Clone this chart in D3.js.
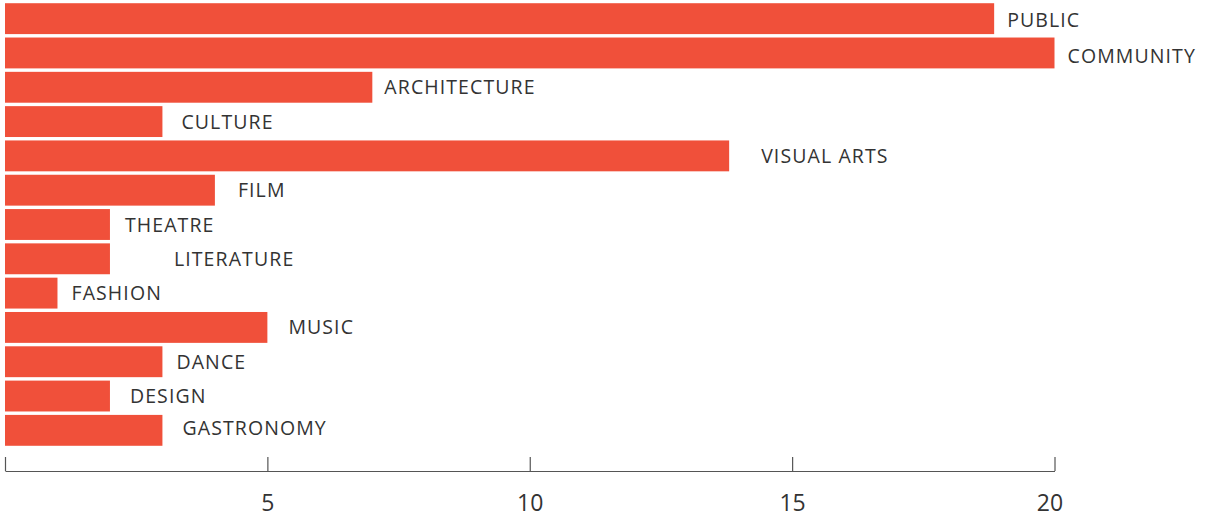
<!DOCTYPE html>
<html>
<head>
<meta charset="utf-8">
<script src="https://cdn.jsdelivr.net/npm/d3@7"></script>
<style>
  body { margin: 0; background: #fff; }
  svg { display: block; }
</style>
</head>
<body>
<div id="chart"></div>
<script>
// categories, top to bottom
const categories = ["PUBLIC", "COMMUNITY", "ARCHITECTURE", "CULTURE", "VISUAL ARTS", "FILM",
    "THEATRE", "LITERATURE", "FASHION", "MUSIC", "DANCE", "DESIGN", "GASTRONOMY"]
const values = [18.85, 20, 7, 3, 13.8, 4, 2, 2, 1, 5, 3, 2, 3]
const tickValues = [0, 5, 10, 15, 20]
const tickLabels = ["", "5", "10", "15", "20"]

// the labels in the original sit at uneven distances from the bar ends
const labelGap = {
    "PUBLIC": 13, "COMMUNITY": 13, "ARCHITECTURE": 12, "CULTURE": 19, "VISUAL ARTS": 32,
    "FILM": 23, "THEATRE": 15, "LITERATURE": 64, "FASHION": 14, "MUSIC": 21,
    "DANCE": 14, "DESIGN": 20, "GASTRONOMY": 20,
}
const labelDrop = {"PUBLIC": 1, "COMMUNITY": 3, "GASTRONOMY": -2}

const width = 1205
const height = 518
const barColor = "#f0503a"
const textColor = "#333"

const rows = categories.map((c, i) => ({name: c, value: values[i]}))

const x = d3.scaleLinear()
    .domain([0, 20])
    .range([5, 1054.5])

const y = d3.scaleBand()
    .domain(categories)
    .range([1.5, 447.5])
    .paddingInner(0.1)
    .paddingOuter(0.05)

const svg = d3.select("#chart").append("svg")
    .attr("width", width)
    .attr("height", height)

svg.append("g")
    .selectAll("rect")
    .data(rows)
    .join("rect")
    .attr("x", x(0))
    .attr("y", d => y(d.name))
    .attr("width", d => x(d.value) - x(0))
    .attr("height", y.bandwidth())
    .attr("fill", barColor)

svg.append("g")
    .selectAll("text")
    .data(rows)
    .join("text")
    .attr("x", d => x(d.value) + labelGap[d.name])
    .attr("y", d => y(d.name) + y.bandwidth() / 2 + 7 + (labelDrop[d.name] || 0))
    .attr("fill", textColor)
    .style("font-family", "'Open Sans', sans-serif")
    .style("font-size", "19.5px")
    .style("letter-spacing", "1.1px")
    .text(d => d.name)

// axis: ticks point up, labels well below the line
const axisY = 471
const axis = d3.axisBottom(x)
    .tickValues(tickValues)
    .tickFormat((d, i) => tickLabels[i])
    .tickSizeInner(-14)
    .tickSizeOuter(0)
    .tickPadding(27)

const ax = svg.append("g")
    .attr("transform", `translate(0,${axisY})`)
    .call(axis)

ax.select(".domain").attr("stroke", "#555").attr("stroke-width", 1.2)
ax.selectAll(".tick line").attr("stroke", "#555").attr("stroke-width", 1.2)
ax.selectAll(".tick text")
    .attr("fill", textColor)
    .attr("dy", "0.71em")
    .attr("y", 24)
    .attr("x", d => d === 20 ? -5 : 0)
    .style("font-family", "'Open Sans', sans-serif")
    .style("font-size", "23px")
</script>
</body>
</html>
